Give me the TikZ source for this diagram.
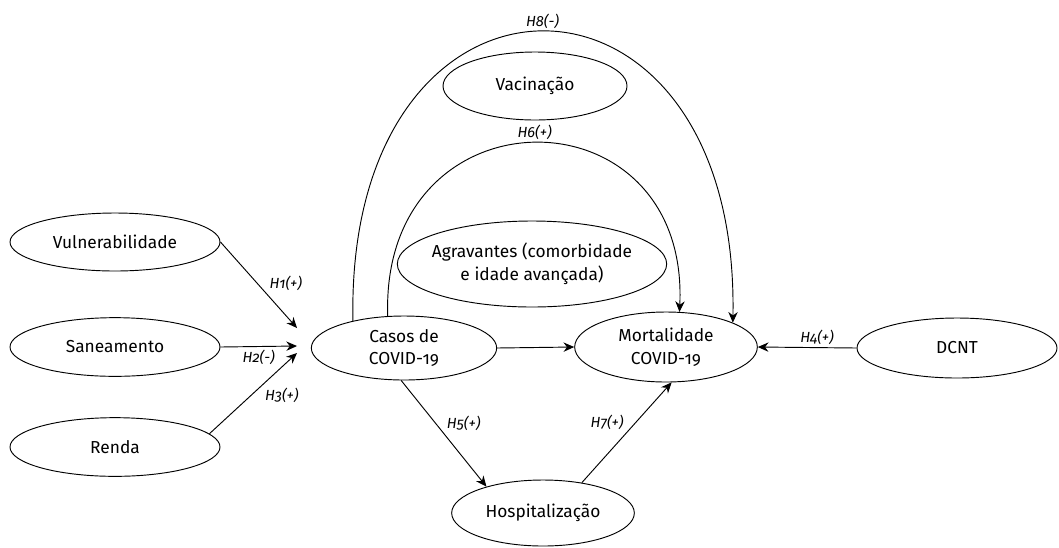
\documentclass[tikz,border=0pt]{standalone}
\usepackage{fontspec}
\setmainfont{Fira Sans}[Numbers=OldStyle]
\usetikzlibrary{shapes.geometric}
\usetikzlibrary{arrows.meta, positioning}

\begin{document}
\begin{tikzpicture}[x=0.75pt, y=-0.75pt,
    var/.style={ellipse, draw, line width=0.7pt, align=center, inner sep=0pt,
        font=\fontsize{13}{17}\selectfont},
    hyp/.style={font=\fontsize{11}{13}\selectfont\itshape, inner sep=2pt},
    arr/.style={-{Stealth[length=8pt,width=7pt]}, line width=0.7pt}]
    \useasboundingbox (0,0) rectangle (1059,547);

    % variables
    \node[var, minimum width=157.5pt, minimum height=43.5pt] (vul) at (115,242) {Vulnerabilidade};
    \node[var, minimum width=157.5pt, minimum height=44pt] (san) at (115,347) {Saneamento};
    \node[var, minimum width=157.5pt, minimum height=44pt] (ren) at (115,447) {Renda};
    \node[var, minimum width=139pt, minimum height=48pt] (casos) at (404,348) {Casos de\\COVID-19};
    \node[var, inner xsep=-13pt, minimum width=202pt, minimum height=64.5pt] (agr) at (532,264) {Agravantes (comorbidade\\e idade avançada)};
    \node[var, minimum width=138pt, minimum height=51pt] (vac) at (535,86) {Vacinação};
    \node[var, minimum width=137pt, minimum height=52.5pt] (mort) at (666,347) {Mortalidade\\COVID-19};
    \node[var, minimum width=150pt, minimum height=45pt] (dcnt) at (957,348) {DCNT};
    \node[var, minimum width=137pt, minimum height=49.5pt] (hosp) at (543,513) {Hospitalização};

    % pontos de chegada
    \coordinate (in1) at (297,328);
    \coordinate (in2) at (297,346);
    \coordinate (in3) at (297,353);

    \draw[arr] (vul.east) -- node[hyp, pos=0.6, above right] {H1(+)} (in1);
    \draw[arr] (san.east) -- node[hyp, midway, below] {H2(-)} (in2);
    \draw[arr] (ren.8) -- node[hyp, pos=0.6, below right] {H3(+)} (in3);
    \draw[arr] (casos.east) -- (mort.west);
    \draw[arr] (dcnt.west) -- node[hyp, pos=0.4, above] {H4(+)} (mort.east);
    \draw[arr] (casos.265) -- node[hyp, midway, above right] {H5(+)} (hosp.155);
    \draw[arr] (hosp.38) -- node[hyp, midway, above left] {H7(+)} (mort.279);

    % curvas
    \draw[arr] (casos.117) .. controls (380,86) and (690,86) .. node[hyp, above] {H6(+)} (mort.69);
    \draw[arr] (casos.152) .. controls (345,-65) and (740,-65) .. node[hyp, above] {H8(-)} (mort.20);

\end{tikzpicture}
\end{document}
